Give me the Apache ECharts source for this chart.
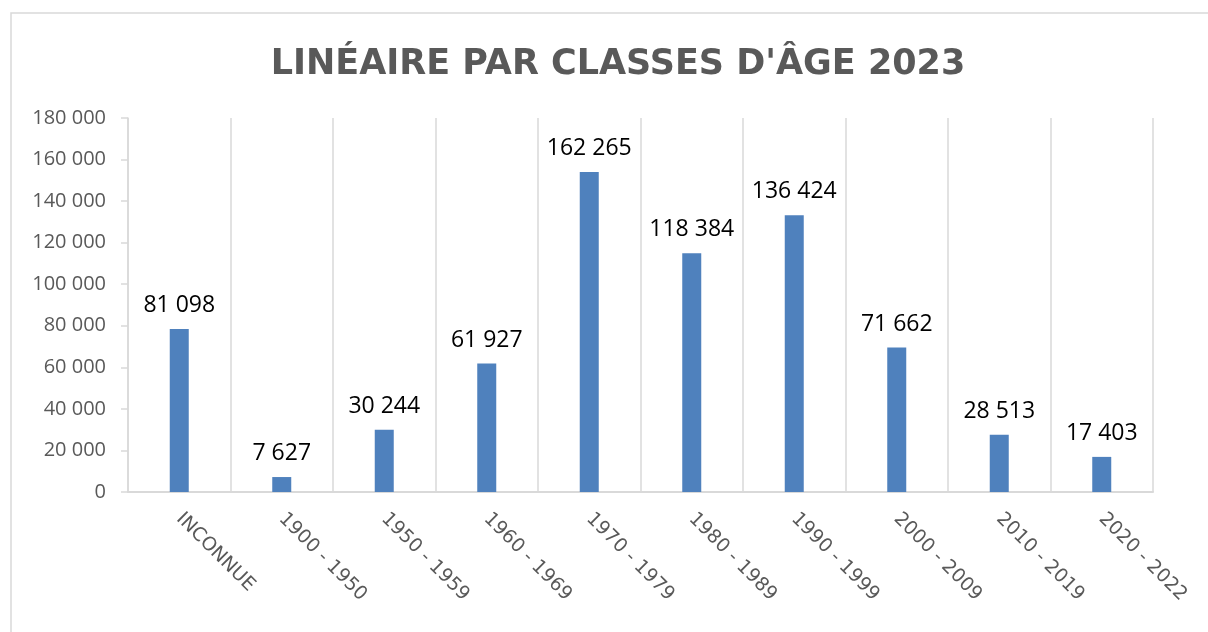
<!DOCTYPE html>
<html lang="fr">
<head>
    <meta charset="UTF-8">
    <title>Linéaire par classes d'âge 2023</title>
    <style>
        *{
            margin:0;
            padding:0;
            box-sizing:border-box;
        }
        html, body{
            height:100%;
            width:100%;
            background:#fff;
        }
        #myChart{
            height:632px;
            width:1208px;
        }
    </style>
</head>
<body>
<div id="myChart"></div>
<script src="https://cdn.jsdelivr.net/npm/echarts@6/dist/echarts.min.js"></script>
<script>
    // classes d'âge
    var categories = ['INCONNUE', '1900 - 1950', '1950 - 1959', '1960 - 1969', '1970 - 1979',
        '1980 - 1989', '1990 - 1999', '2000 - 2009', '2010 - 2019', '2020 - 2022'];
    // hauteur des barres
    var barValues = [78500, 7200, 29900, 61800, 154000, 114900, 133200, 69500, 27500, 16900];
    // étiquettes affichées au-dessus des barres
    var barLabels = ['81 098', '7 627', '30 244', '61 927', '162 265',
        '118 384', '136 424', '71 662', '28 513', '17 403'];
    var yTicks = [0, 20000, 40000, 60000, 80000, 100000, 120000, 140000, 160000, 180000];

    var gridColor = '#d9d9d9';
    var textColor = '#595959';

    function fmt(v) {
        return String(v).replace(/\B(?=(\d{3})+(?!\d))/g, ' ');
    }

    var myChart = echarts.init(document.getElementById('myChart'));
    var option = {
        animation:false,
        color:['#4f81bd'],
        title:{
            text:"LINÉAIRE PAR CLASSES D'ÂGE 2023",
            left:613,
            textAlign:'center',
            top:42,
            textStyle:{
                fontFamily:'DejaVu Sans',
                fontWeight:'bold',
                fontSize:35,
                color:textColor
            }
        },
        graphic:[{
            type:'rect',
            shape:{x:11, y:13, width:1400, height:800},
            style:{fill:'none', stroke:gridColor, lineWidth:1.5},
            silent:true
        }],
        grid:{
            left:128,
            right:55,
            top:118,
            bottom:140
        },
        xAxis:{
            type:'category',
            data:categories,
            axisLine:{lineStyle:{color:gridColor, width:2}},
            axisTick:{show:false},
            splitLine:{show:true, interval:0, lineStyle:{color:gridColor, width:1.5}},
            axisLabel:{
                interval:0,
                rotate:-45,
                margin:24,
                color:textColor,
                fontFamily:'DejaVu Sans',
                fontSize:19
            }
        },
        yAxis:{
            type:'value',
            min:yTicks[0],
            max:yTicks[yTicks.length - 1],
            interval:20000,
            splitLine:{show:false},
            axisLine:{show:true, lineStyle:{color:gridColor, width:1.5}},
            axisTick:{show:true, length:7, lineStyle:{color:gridColor, width:1.5}},
            axisLabel:{
                margin:22,
                color:textColor,
                fontFamily:'Open Sans',
                fontSize:20,
                formatter:fmt
            }
        },
        series:[{
            type:'bar',
            barWidth:19,
            data:barValues,
            label:{
                show:true,
                position:'top',
                distance:12,
                color:'#000',
                fontFamily:'Open Sans',
                fontSize:23,
                formatter:function(p) {
                    return barLabels[p.dataIndex];
                }
            }
        }]
    };
    myChart.setOption(option);
</script>
</body>
</html>
